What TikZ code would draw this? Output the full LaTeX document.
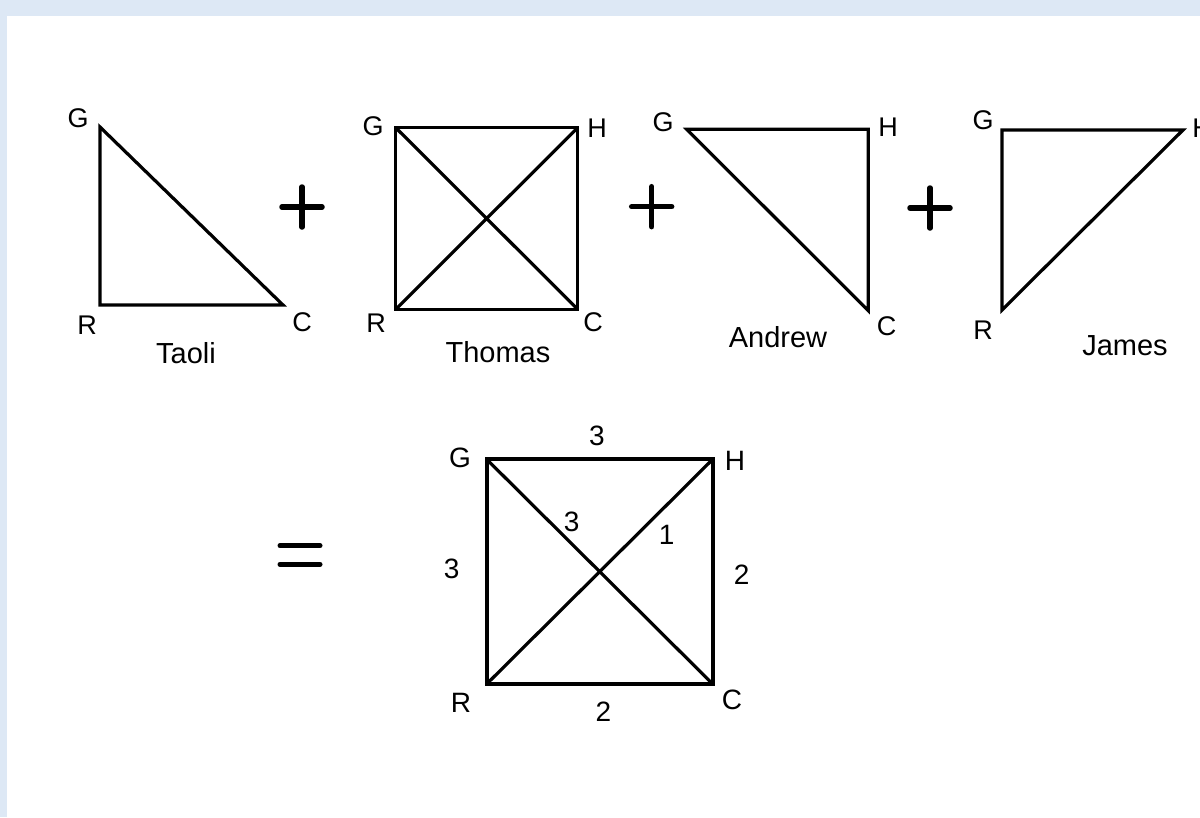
\documentclass[tikz,border=0pt]{standalone}
\usepackage{fontspec}
\setmainfont{Liberation Sans}
\definecolor{bgblue}{RGB}{221,232,245}
\begin{document}
\begin{tikzpicture}[x=1pt,y=-1pt,
  edge/.style={line width=3.2pt,line join=miter},
  outer/.style={line width=4.2pt,line join=miter},
  lbl/.style={font=\fontsize{27}{31}\selectfont,inner sep=0pt},
  bigtext/.style={font=\fontsize{29}{33}\selectfont,inner sep=0pt},
  weight/.style={font=\fontsize{28}{32}\selectfont,inner sep=0pt},
  sym/.style={line width=5.5pt,line cap=round}]
\clip (0,0) rectangle (1200,817);
\fill[bgblue] (0,0) rectangle (1200,817);
\fill[white] (7,16) rectangle (1200,817);

% Taoli
\coordinate (TG) at (100,127);
\coordinate (TR) at (100,305);
\coordinate (TC) at (283,305);
\draw[edge] (TG) -- (TR) -- (TC) -- cycle;
\node[lbl] (tg) at (78,118) {G};
\node[lbl] (tr) at (87,325) {R};
\node[lbl] (tc) at (302,322) {C};
\node[bigtext] (taoli) at (186,353) {Taoli};

% plus 1
\coordinate (p1) at (302,207);
\draw[sym] ([xshift=-20pt]p1) -- ([xshift=20pt]p1) ([yshift=-20pt]p1) -- ([yshift=20pt]p1);

% Thomas
\coordinate (SG) at (395.7,127.7);
\coordinate (SH) at (577.7,127.7);
\coordinate (SR) at (395.7,309.3);
\coordinate (SC) at (577.7,309.3);
\draw[edge] (SG) -- (SH) -- (SC) -- (SR) -- cycle;
\draw[edge] (SG) -- (SC) (SR) -- (SH);
\node[lbl] (sg) at (373,126) {G};
\node[lbl] (sh) at (597,128) {H};
\node[lbl] (sr) at (376,323) {R};
\node[lbl] (sc) at (593,322) {C};
\node[bigtext] (thomas) at (498,352) {Thomas};

% plus 2
\coordinate (p2) at (651.7,206.7);
\draw[sym] ([xshift=-20pt]p2) -- ([xshift=20pt]p2) ([yshift=-20pt]p2) -- ([yshift=20pt]p2);

% Andrew
\coordinate (AG) at (686.7,129.3);
\coordinate (AH) at (868.3,129.3);
\coordinate (AC) at (868.3,310.7);
\draw[edge] (AG) -- (AH) -- (AC) -- cycle;
\node[lbl] (ag) at (663,122.7) {G};
\node[lbl] (ah) at (888,127) {H};
\node[lbl] (ac) at (886.7,326.7) {C};
\node[bigtext] (andrew) at (778,337) {Andrew};

% plus 3
\coordinate (p3) at (930,208);
\draw[sym] ([xshift=-20pt]p3) -- ([xshift=20pt]p3) ([yshift=-20pt]p3) -- ([yshift=20pt]p3);

% James
\coordinate (JG) at (1002,130);
\coordinate (JH) at (1183,130);
\coordinate (JR) at (1002,310);
\draw[edge] (JG) -- (JH) -- (JR) -- cycle;
\node[lbl] (jg) at (983,120) {G};
\node[lbl] (jh) at (1202,128) {H};
\node[lbl] (jr) at (983,330) {R};
\node[bigtext] (james) at (1125,346) {James};

% equals
\coordinate (eq) at (300,555);
\draw[sym,line width=5pt] ([xshift=-20pt,yshift=-9.3pt]eq) -- ([xshift=20pt,yshift=-9.3pt]eq)
  ([xshift=-20pt,yshift=9.3pt]eq) -- ([xshift=20pt,yshift=9.3pt]eq);

% result square
\coordinate (BG) at (486.7,459.3);
\coordinate (BH) at (712.7,459.3);
\coordinate (BR) at (486.7,684);
\coordinate (BC) at (712.7,684);
\draw[edge] (BG) -- (BC) (BR) -- (BH);
\draw[outer] (BG) -- (BH) -- (BC) -- (BR) -- cycle;
\node[weight] (bg) at (460,458) {G};
\node[weight] (bh) at (735,461) {H};
\node[weight] (br) at (461,703.3) {R};
\node[weight] (bc) at (732,700) {C};
\node[weight] (wgh) at (597,436) {3};
\node[weight] (wgc) at (571.7,521.7) {3};
\node[weight] (wrh) at (666.7,535) {1};
\node[weight] (wgr) at (451.7,569.3) {3};
\node[weight] (whc) at (741.7,575) {2};
\node[weight] (wrc) at (603.3,711.7) {2};
\end{tikzpicture}
\end{document}
